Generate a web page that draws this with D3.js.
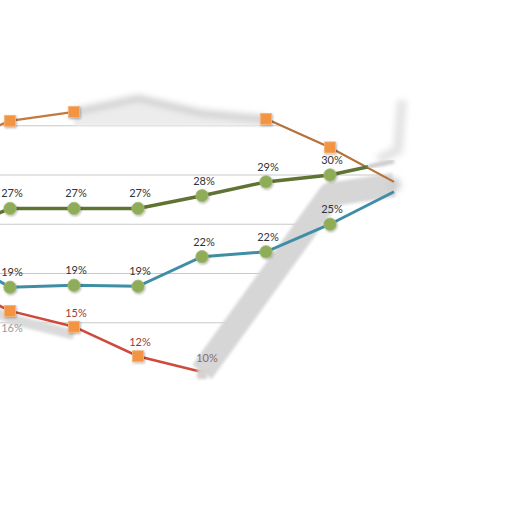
<!DOCTYPE html>
<html lang="en">
<head>
  <meta charset="UTF-8">
  <title>Chart</title>
  <style>
    body { margin: 0; background: #fff; }
    svg { display: block; }
  </style>
</head>
<body>

  <svg id="svg" width="512" height="512"></svg>

  <script src="https://d3js.org/d3.v7.min.js"></script>
  <script>

    // categories (the first one sits just off the left edge)
    const categories = ['2006', '2007', '2008', '2009', '2010', '2011', '2012', '2013']

    // series values, in percent
    const topValues   = [32.8, 35.5, 36.4, 37.8, 36.3, 35.7, 32.8, 29.3]
    const greenValues = [23.9, 26.6, 26.6, 26.6, 27.9, 29.3, 30.0, 31.4]
    const tealValues  = [22.3, 18.6, 18.8, 18.7, 21.7, 22.2, 25.0, 28.3]
    const redValues   = [19.4, 16.2, 14.6, 11.6, 10.0, 19.0, 28.0, 29.0]

    // gridline values
    const gridTicks = [15, 20, 25, 30, 35]

    // which points carry a data label
    const greenLabelIdx = [1, 2, 3, 4, 5, 6]
    const tealLabelIdx  = [1, 2, 3, 4, 5, 6]
    const redLabelIdx   = [1, 2, 3, 4]

    const fmt = v => d3.format('.0f')(v) + '%'

    const xScale = d3.scalePoint()
      .domain(categories)
      .range([-54, 394])

    const yScale = d3.scaleLinear()
      .domain([10, 30])
      .range([372, 175])

    const svg = d3.select('#svg')
    const defs = svg.append('defs')

    defs.append('filter').attr('id', 'blur')
      .attr('x', '-20%').attr('y', '-20%').attr('width', '140%').attr('height', '140%')
      .append('feGaussianBlur').attr('stdDeviation', 1.6)
    defs.append('filter').attr('id', 'blur2')
      .attr('x', '-50%').attr('y', '-50%').attr('width', '200%').attr('height', '200%')
      .append('feGaussianBlur').attr('stdDeviation', 3)

    const shadow = defs.append('filter').attr('id', 'shadow')
      .attr('x', '-50%').attr('y', '-50%').attr('width', '200%').attr('height', '200%')
    shadow.append('feDropShadow')
      .attr('dx', 0.8).attr('dy', 1.2).attr('stdDeviation', 1)
      .attr('flood-color', '#000').attr('flood-opacity', 0.3)

    const pts = vals => vals.map((v, i) => [xScale(categories[i]), yScale(v)])
    const line = d3.line()

    // plot-area clip: under the top series, left of the grey ribbon
    const clipPts = pts(topValues)
      .concat(pts(redValues).slice(4).reverse().map(p => [p[0] + 12, p[1]]))
      .concat([[xScale(categories[4]) + 12, 512], [-60, 512]])
    defs.append('clipPath').attr('id', 'plotClip')
      .append('polygon').attr('points', clipPts.map(p => p.join(',')).join(' '))

    // gridlines
    svg.append('g')
      .attr('clip-path', 'url(#plotClip)')
      .selectAll('line')
      .data(gridTicks)
      .join('line')
      .attr('x1', 0).attr('x2', 512)
      .attr('y1', d => yScale(d)).attr('y2', d => yScale(d))
      .attr('stroke', '#c9c9c9')
      .attr('stroke-width', 1.2)

    // greyed parts of the top and bottom series
    const topPts = pts(topValues)
    const redPts = pts(redValues)
    const greenPts = pts(greenValues)

    svg.append('path')
      .attr('d', d3.area().y1(p => p[1]).y0(yScale(35))(topPts.slice(2, 6)))
      .attr('fill', '#ececec')
      .attr('filter', 'url(#blur)')

    svg.append('path')
      .attr('d', line(topPts.slice(2, 6)))
      .attr('fill', 'none')
      .attr('stroke', '#cdcdcd')
      .attr('stroke-width', 6)
      .attr('filter', 'url(#blur2)')

    svg.append('path')
      .attr('d', line(redPts.slice(4)))
      .attr('fill', 'none')
      .attr('stroke', '#d6d6d6')
      .attr('stroke-width', 24)
      .attr('stroke-linejoin', 'round')
      .attr('filter', 'url(#blur)')

    svg.append('path')
      .attr('d', line(redPts.slice(0, 3).map(p => [p[0], p[1] + 8])))
      .attr('fill', 'none')
      .attr('stroke', '#dadada')
      .attr('stroke-width', 10)
      .attr('filter', 'url(#blur)')

    // faint smudge at the right end
    svg.append('path')
      .attr('d', line([[378, 160], [398, 150], [402, 100]]))
      .attr('fill', 'none')
      .attr('stroke', '#e4e4e4')
      .attr('stroke-width', 10)
      .attr('filter', 'url(#blur2)')
    svg.append('circle')
      .attr('cx', xScale(categories[7])).attr('cy', yScale(redValues[7]))
      .attr('r', 7).attr('fill', '#cfcfcf').attr('filter', 'url(#blur2)')

    // coloured lines
    svg.append('path')
      .attr('d', line(topPts.slice(0, 3)))
      .attr('fill', 'none').attr('stroke', '#c47a3f').attr('stroke-width', 2.2)
    svg.append('path')
      .attr('d', line(topPts.slice(5)))
      .attr('fill', 'none').attr('stroke', '#b5713a').attr('stroke-width', 2.2)

    // green fades out past its last marker
    const gEnd = d3.interpolate(greenPts[6], greenPts[7])
    svg.append('path')
      .attr('d', line(greenPts.slice(0, 7).concat([gEnd(0.6)])))
      .attr('fill', 'none').attr('stroke', '#5f7332').attr('stroke-width', 3.5)
    svg.append('path')
      .attr('d', line([gEnd(0.6), greenPts[7]]))
      .attr('fill', 'none').attr('stroke', '#c8c8c8').attr('stroke-width', 4)
      .attr('filter', 'url(#blur)')

    svg.append('path')
      .attr('d', line(pts(tealValues)))
      .attr('fill', 'none').attr('stroke', '#3f8ea6').attr('stroke-width', 3)

    svg.append('path')
      .attr('d', line(redPts.slice(0, 5)))
      .attr('fill', 'none').attr('stroke', '#cf4a3a').attr('stroke-width', 2.5)

    // markers
    const square = (idx, vals) => svg.append('g')
      .selectAll('rect')
      .data(idx)
      .join('rect')
      .attr('x', i => xScale(categories[i]) - 5.5)
      .attr('y', i => yScale(vals[i]) - 5.5)
      .attr('width', 11).attr('height', 11)
      .attr('fill', '#f39442')
      .attr('stroke', '#f5b57e').attr('stroke-width', 0.8)
      .attr('filter', 'url(#shadow)')

    const dot = (idx, vals) => svg.append('g')
      .selectAll('circle')
      .data(idx)
      .join('circle')
      .attr('cx', i => xScale(categories[i]))
      .attr('cy', i => yScale(vals[i]))
      .attr('r', 6.2)
      .attr('fill', '#8fac58')
      .attr('stroke', '#a3bd72').attr('stroke-width', 0.8)
      .attr('filter', 'url(#shadow)')

    square([1, 2, 5, 6], topValues)
    dot([1, 2, 3, 4, 5, 6], greenValues)
    dot([1, 2, 3, 4, 5, 6], tealValues)
    square([1, 2, 3], redValues)

    svg.append('rect')
      .attr('x', xScale(categories[4]) - 5).attr('y', yScale(redValues[4]) - 3)
      .attr('width', 10).attr('height', 10)
      .attr('fill', '#d8d2cf').attr('filter', 'url(#blur)')

    // data labels
    const labels = (idx, vals, dy, color, dx) => svg.append('g')
      .selectAll('text')
      .data(idx)
      .join('text')
      .attr('x', i => xScale(categories[i]) + (dx ? dx(i) : 2))
      .attr('y', i => yScale(vals[i]) + dy(i))
      .attr('text-anchor', 'middle')
      .attr('font-family', 'Lato, "Open Sans", sans-serif')
      .attr('font-size', 11)
      .attr('fill', color)
      .text(i => fmt(vals[i]))

    labels(greenLabelIdx, greenValues, () => -11, '#333')
    labels(tealLabelIdx, tealValues, () => -11, '#333')
    labels(redLabelIdx, redValues,
      i => i === 1 ? 21 : -10,
      i => i === 1 ? '#9a9a9a' : (i === 4 ? '#8a6a68' : '#9b3b35'),
      i => i === 4 ? 5 : 2)
      .attr('fill', i => i === 1 ? '#9a9a9a' : (i === 4 ? '#8a6a68' : '#9b3b35'))

  </script>
</body>
</html>
